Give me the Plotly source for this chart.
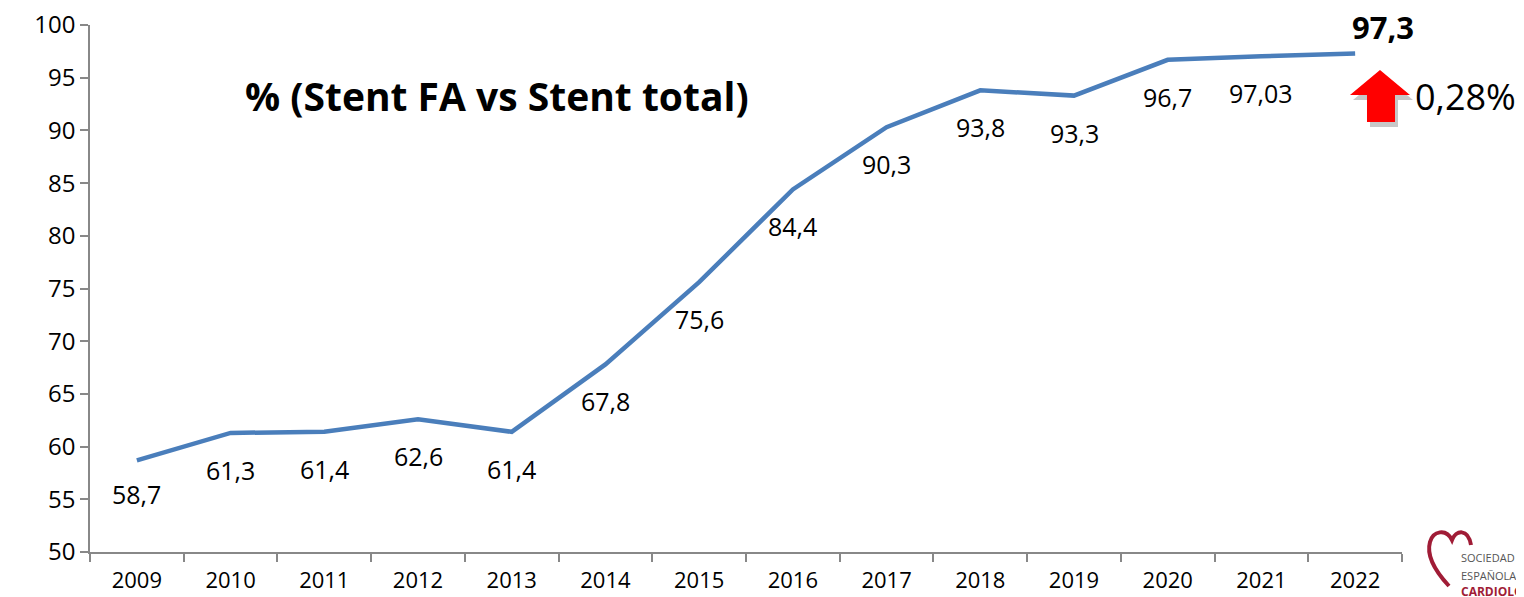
import plotly.graph_objects as go

years = ["2009", "2010", "2011", "2012", "2013", "2014", "2015", "2016",
         "2017", "2018", "2019", "2020", "2021", "2022"]
values = [58.7, 61.3, 61.4, 62.6, 61.4, 67.8, 75.6, 84.4, 90.3, 93.8, 93.3, 96.7, 97.03, 97.3]
labels = ["58,7", "61,3", "61,4", "62,6", "61,4", "67,8", "75,6", "84,4",
          "90,3", "93,8", "93,3", "96,7", "97,03", "97,3"]
y_ticks = [50, 55, 60, 65, 70, 75, 80, 85, 90, 95, 100]
title_text = "% (Stent FA vs Stent total)"
change_text = "0,28%"

# page offset (the HTML body has an 8px margin)
O = 8
PAGE_W, PAGE_H = 1524, 597
W, H = PAGE_W - O, PAGE_H - O
L, R, T, B = 90, 1402, 25, 552
FONT = "Open Sans"


def px(x):
    return (x - L) / (R - L)


def py(y):
    return (B - y) / (B - T)


fig = go.Figure()
fig.add_trace(go.Scatter(x=years, y=values, mode="lines",
                         line=dict(color="#4A7EBB", width=4.5),
                         hoverinfo="skip", showlegend=False))

ann = []
for i, (v, lab) in enumerate(zip(values, labels)):
    if i == len(values) - 1:
        ann.append(dict(x=i, y=v, xref="x", yref="y", text="<b>" + lab + "</b>", showarrow=False,
                        xanchor="center", yanchor="middle", xshift=28, yshift=26,
                        font=dict(size=31, color="black", family=FONT)))
    else:
        ann.append(dict(x=i, y=v, xref="x", yref="y", text=lab, showarrow=False,
                        xanchor="center", yanchor="middle", yshift=-34 if i == 0 else -37,
                        font=dict(size=25, color="black", family=FONT)))

ann.append(dict(xref="paper", yref="paper", x=px(497), y=py(95), xanchor="center", yanchor="middle",
                text="<b>" + title_text + "</b>", showarrow=False,
                font=dict(size=39, color="black", family=FONT)))
ann.append(dict(xref="paper", yref="paper", x=px(1413), y=py(96), xanchor="left", yanchor="middle",
                text=change_text, showarrow=False, font=dict(size=36, color="black", family=FONT)))
# logo texts
for txt, yy, sz, col in [("SOCIEDAD", 557, 11, "#555555"), ("ESPAÑOLA", 575, 11, "#555555"),
                         ("<b>CARDIOLOGÍA</b>", 591, 12, "#A01C36")]:
    ann.append(dict(xref="paper", yref="paper", x=px(1459), y=py(yy), xanchor="left",
                    yanchor="middle", text=txt, showarrow=False,
                    font=dict(size=sz, color=col, family=FONT)))


def path_px(points):
    s = ""
    for k, (a, b) in enumerate(points):
        s += ("M" if k == 0 else "L") + f"{px(a):.5f},{py(b):.5f} "
    return s + "Z"


arrow = [(1380, 70), (1410, 95), (1395, 95), (1395, 122), (1367, 122), (1367, 95), (1350, 95)]
shadow = [(a + 3, b + 5) for a, b in arrow]
shapes = [
    dict(type="path", xref="paper", yref="paper", path=path_px(shadow),
         fillcolor="rgba(0,0,0,0.22)", line=dict(width=0), layer="above"),
    dict(type="path", xref="paper", yref="paper", path=path_px(arrow),
         fillcolor="#FF0000", line=dict(width=0), layer="above"),
]
heart = (f"M{px(1449):.5f},{py(586):.5f} "
         f"C{px(1436):.5f},{py(572):.5f} {px(1426):.5f},{py(556):.5f} {px(1430):.5f},{py(542):.5f} "
         f"C{px(1433):.5f},{py(531):.5f} {px(1446):.5f},{py(528):.5f} {px(1452):.5f},{py(540):.5f} "
         f"C{px(1456):.5f},{py(530):.5f} {px(1468):.5f},{py(528):.5f} {px(1471):.5f},{py(545):.5f}")
shapes.append(dict(type="path", xref="paper", yref="paper", path=heart,
                   line=dict(color="#A01C36", width=4), layer="above"))

fig.update_layout(
    width=W, height=H,
    margin=dict(l=L - O, r=PAGE_W - R, t=T - O, b=PAGE_H - B, pad=0, autoexpand=False),
    paper_bgcolor="white", plot_bgcolor="white",
    annotations=ann, shapes=shapes,
    xaxis=dict(type="category", tickson="boundaries", range=[-0.5, 13.5], automargin=False,
               showgrid=False, showline=True, linecolor="#888888", linewidth=1.5,
               ticks="outside", ticklen=8, tickcolor="#888888", tickwidth=1.5,
               ticklabelstandoff=8,
               tickfont=dict(size=22, color="black", family=FONT), zeroline=False),
    yaxis=dict(range=[50, 100], tickvals=y_ticks, showgrid=False, showline=True, automargin=False,
               linecolor="#888888", linewidth=1.5, ticks="outside", ticklen=8,
               tickcolor="#888888", tickwidth=1.5, zeroline=False,
               ticklabeloverflow="allow",
               tickfont=dict(size=24, color="black", family=FONT)),
)

fig.write_html("out.html")
